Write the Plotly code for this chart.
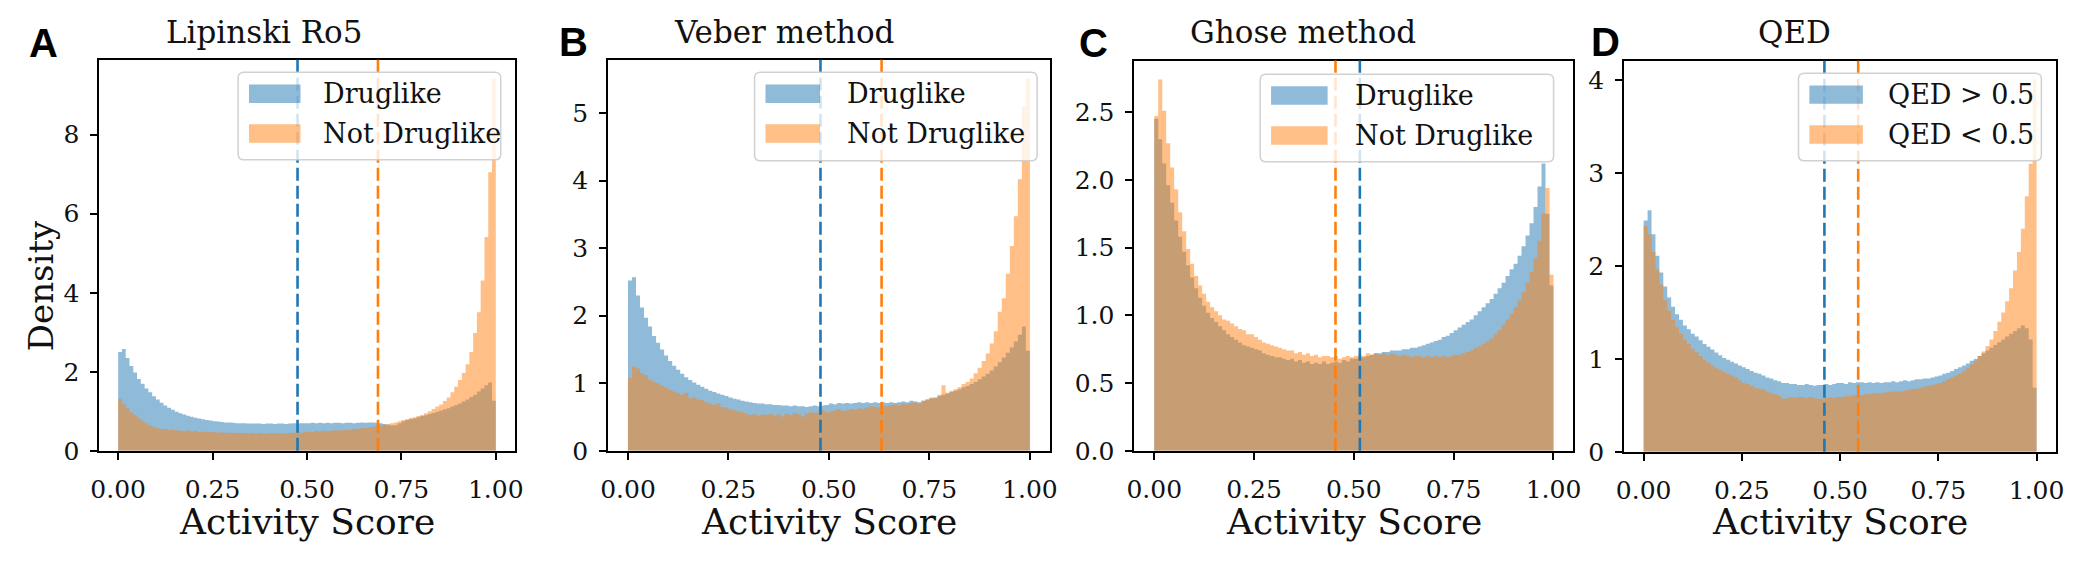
import numpy as np
import plotly.graph_objects as go

W, H = 2085, 562

# ---------------- data (density histograms, 100 bins on [0, 1]) ----------------
bin_edges = np.linspace(0.0, 1.0, 101)

titles = ["Lipinski Ro5", "Veber method", "Ghose method", "QED"]
letters = ["A", "B", "C", "D"]
legend_labels = [("Druglike", "Not Druglike"), ("Druglike", "Not Druglike"),
                 ("Druglike", "Not Druglike"), ("QED > 0.5", "QED < 0.5")]

A_druglike = [2.50, 2.58, 2.35, 2.15, 1.98, 1.82, 1.70, 1.58, 1.48, 1.38,
              1.30, 1.22, 1.15, 1.09, 1.04, 0.99, 0.95, 0.92, 0.89, 0.86,
              0.84, 0.82, 0.80, 0.78, 0.77, 0.75, 0.74, 0.73, 0.72, 0.72,
              0.71, 0.70, 0.70, 0.70, 0.69, 0.69, 0.69, 0.69, 0.68, 0.69,
              0.69, 0.68, 0.69, 0.69, 0.68, 0.69, 0.70, 0.69, 0.70, 0.70,
              0.70, 0.71, 0.70, 0.71, 0.70, 0.71, 0.70, 0.71, 0.71, 0.70,
              0.71, 0.71, 0.70, 0.71, 0.72, 0.71, 0.72, 0.72, 0.71, 0.70,
              0.68, 0.66, 0.64, 0.65, 0.70, 0.74, 0.78, 0.80, 0.82, 0.85,
              0.88, 0.90, 0.93, 0.96, 0.99, 1.02, 1.05, 1.08, 1.12, 1.16,
              1.20, 1.25, 1.30, 1.36, 1.42, 1.50, 1.58, 1.66, 1.73, 1.27]
A_not = [1.32, 1.20, 1.08, 0.98, 0.90, 0.82, 0.76, 0.70, 0.65, 0.61,
         0.57, 0.55, 0.56, 0.53, 0.54, 0.52, 0.51, 0.50, 0.52, 0.49,
         0.50, 0.48, 0.49, 0.47, 0.48, 0.47, 0.46, 0.47, 0.46, 0.46,
         0.45, 0.46, 0.45, 0.46, 0.44, 0.45, 0.44, 0.45, 0.44, 0.43,
         0.45, 0.44, 0.45, 0.43, 0.44, 0.45, 0.46, 0.47, 0.46, 0.48,
         0.49, 0.48, 0.50, 0.49, 0.51, 0.50, 0.51, 0.52, 0.51, 0.53,
         0.54, 0.53, 0.55, 0.56, 0.57, 0.58, 0.60, 0.61, 0.63, 0.64,
         0.66, 0.68, 0.70, 0.72, 0.75, 0.78, 0.80, 0.83, 0.85, 0.88,
         0.91, 0.95, 1.00, 1.06, 1.12, 1.17, 1.26, 1.35, 1.48, 1.62,
         1.79, 1.97, 2.19, 2.50, 2.98, 3.51, 4.31, 5.41, 7.05, 9.43]

B_druglike = [2.52, 2.57, 2.30, 2.12, 1.97, 1.84, 1.70, 1.60, 1.50, 1.41,
              1.33, 1.26, 1.20, 1.14, 1.09, 1.05, 1.01, 0.98, 0.95, 0.92,
              0.89, 0.87, 0.85, 0.83, 0.81, 0.79, 0.77, 0.76, 0.74, 0.73,
              0.72, 0.71, 0.70, 0.70, 0.69, 0.69, 0.68, 0.68, 0.67, 0.67,
              0.66, 0.67, 0.66, 0.66, 0.65, 0.66, 0.67, 0.66, 0.67, 0.68,
              0.70, 0.69, 0.71, 0.70, 0.71, 0.70, 0.71, 0.72, 0.71, 0.72,
              0.71, 0.72, 0.71, 0.72, 0.71, 0.72, 0.71, 0.72, 0.73, 0.72,
              0.74, 0.73, 0.72, 0.74, 0.76, 0.78, 0.79, 0.81, 0.83, 0.85,
              0.87, 0.89, 0.91, 0.94, 0.96, 0.99, 1.02, 1.06, 1.10, 1.14,
              1.19, 1.25, 1.31, 1.38, 1.45, 1.53, 1.62, 1.72, 1.84, 1.48]
B_not = [1.08, 1.25, 1.22, 1.15, 1.12, 1.05, 1.02, 1.00, 0.96, 0.93,
         0.90, 0.88, 0.86, 0.83, 0.86, 0.78, 0.79, 0.76, 0.75, 0.72,
         0.70, 0.68, 0.70, 0.65, 0.64, 0.62, 0.60, 0.59, 0.57, 0.55,
         0.53, 0.54, 0.52, 0.54, 0.53, 0.55, 0.52, 0.54, 0.51, 0.55,
         0.53, 0.56, 0.54, 0.51, 0.55, 0.57, 0.56, 0.58, 0.60, 0.57,
         0.58, 0.60, 0.62, 0.59, 0.60, 0.62, 0.61, 0.63, 0.62, 0.64,
         0.66, 0.65, 0.64, 0.67, 0.66, 0.68, 0.69, 0.67, 0.70, 0.69,
         0.71, 0.72, 0.70, 0.74, 0.76, 0.79, 0.78, 0.83, 0.97, 0.86,
         0.89, 0.91, 0.94, 0.99, 1.02, 1.07, 1.15, 1.23, 1.33, 1.44,
         1.59, 1.77, 2.06, 2.26, 2.62, 3.03, 3.47, 4.02, 5.10, 5.51]

C_druglike = [2.45, 2.30, 2.12, 1.96, 1.83, 1.70, 1.58, 1.47, 1.37, 1.28,
              1.20, 1.13, 1.07, 1.02, 0.98, 0.95, 0.92, 0.89, 0.86, 0.84,
              0.82, 0.80, 0.78, 0.77, 0.76, 0.75, 0.74, 0.72, 0.71, 0.70,
              0.69, 0.69, 0.68, 0.67, 0.68, 0.66, 0.67, 0.65, 0.66, 0.64,
              0.65, 0.64, 0.66, 0.64, 0.65, 0.66, 0.65, 0.67, 0.66, 0.68,
              0.68, 0.69, 0.69, 0.70, 0.71, 0.72, 0.72, 0.73, 0.73, 0.74,
              0.74, 0.74, 0.75, 0.75, 0.76, 0.76, 0.77, 0.78, 0.79, 0.80,
              0.81, 0.82, 0.84, 0.85, 0.87, 0.89, 0.91, 0.93, 0.95, 0.97,
              1.00, 1.03, 1.06, 1.09, 1.12, 1.16, 1.20, 1.24, 1.29, 1.34,
              1.38, 1.44, 1.51, 1.59, 1.68, 1.80, 1.95, 2.12, 1.75, 1.22]
C_not = [2.47, 2.74, 2.51, 2.27, 2.09, 1.93, 1.76, 1.62, 1.49, 1.38,
         1.29, 1.22, 1.16, 1.10, 1.06, 1.03, 1.00, 0.97, 0.96, 0.94,
         0.92, 0.90, 0.89, 0.86, 0.86, 0.84, 0.82, 0.80, 0.79, 0.78,
         0.77, 0.76, 0.75, 0.74, 0.74, 0.72, 0.73, 0.71, 0.72, 0.70,
         0.71, 0.69, 0.70, 0.70, 0.69, 0.70, 0.68, 0.69, 0.70, 0.69,
         0.70, 0.71, 0.70, 0.72, 0.71, 0.72, 0.71, 0.72, 0.71, 0.72,
         0.71, 0.70, 0.71, 0.70, 0.69, 0.70, 0.70, 0.69, 0.70, 0.69,
         0.70, 0.69, 0.70, 0.69, 0.70, 0.71, 0.71, 0.72, 0.73, 0.74,
         0.76, 0.77, 0.79, 0.81, 0.83, 0.86, 0.89, 0.93, 0.97, 1.01,
         1.06, 1.11, 1.17, 1.24, 1.32, 1.42, 1.55, 1.75, 1.94, 1.30]

D_high = [2.49, 2.60, 2.34, 2.11, 1.93, 1.78, 1.66, 1.56, 1.48, 1.42,
          1.36, 1.32, 1.27, 1.24, 1.20, 1.16, 1.13, 1.10, 1.07, 1.04,
          1.01, 0.99, 0.97, 0.95, 0.93, 0.91, 0.89, 0.87, 0.85, 0.84,
          0.82, 0.80, 0.79, 0.77, 0.76, 0.74, 0.74, 0.73, 0.73, 0.72,
          0.72, 0.73, 0.72, 0.71, 0.72, 0.72, 0.73, 0.72, 0.73, 0.74,
          0.74, 0.73, 0.75, 0.74, 0.75, 0.75, 0.74, 0.75, 0.74, 0.75,
          0.74, 0.75, 0.75, 0.76, 0.75, 0.76, 0.77, 0.76, 0.77, 0.78,
          0.78, 0.79, 0.79, 0.80, 0.81, 0.82, 0.84, 0.85, 0.87, 0.89,
          0.91, 0.93, 0.95, 0.98, 1.00, 1.03, 1.06, 1.09, 1.12, 1.15,
          1.18, 1.21, 1.24, 1.27, 1.30, 1.33, 1.36, 1.33, 1.21, 0.69]
D_low = [2.43, 2.34, 2.15, 1.96, 1.80, 1.63, 1.52, 1.42, 1.34, 1.27,
         1.21, 1.16, 1.11, 1.07, 1.03, 0.99, 0.96, 0.93, 0.90, 0.88,
         0.86, 0.84, 0.82, 0.80, 0.77, 0.74, 0.73, 0.71, 0.69, 0.68,
         0.67, 0.65, 0.63, 0.62, 0.60, 0.57, 0.58, 0.59, 0.58, 0.59,
         0.59, 0.58, 0.59, 0.58, 0.57, 0.57, 0.58, 0.59, 0.58, 0.59,
         0.59, 0.60, 0.60, 0.61, 0.61, 0.61, 0.62, 0.62, 0.63, 0.63,
         0.63, 0.64, 0.64, 0.65, 0.65, 0.65, 0.66, 0.67, 0.68, 0.68,
         0.69, 0.70, 0.71, 0.72, 0.73, 0.74, 0.76, 0.78, 0.80, 0.82,
         0.84, 0.87, 0.90, 0.94, 0.98, 1.03, 1.08, 1.14, 1.21, 1.30,
         1.40, 1.50, 1.62, 1.76, 1.95, 2.15, 2.40, 2.75, 3.10, 4.01]

series_blue = [A_druglike, B_druglike, C_druglike, D_high]
series_orange = [A_not, B_not, C_not, D_low]

# mean activity score per group (dashed lines)
means_blue = [0.475, 0.479, 0.515, 0.460]
means_orange = [0.688, 0.631, 0.454, 0.546]

y_max = [9.9, 5.79, 2.88, 4.21]
y_ticks = [[0, 2, 4, 6, 8], [0, 1, 2, 3, 4, 5], [0, 0.5, 1.0, 1.5, 2.0, 2.5], [0, 1, 2, 3, 4]]
y_ticklabels = [["0", "2", "4", "6", "8"], ["0", "1", "2", "3", "4", "5"],
                ["0.0", "0.5", "1.0", "1.5", "2.0", "2.5"], ["0", "1", "2", "3", "4"]]
x_ticks = [0.0, 0.25, 0.5, 0.75, 1.0]
x_ticklabels = ["0.00", "0.25", "0.50", "0.75", "1.00"]

# ---------------- layout geometry (pixels) ----------------
axes_px = [(83, 502, 53, 455), (596, 1042, 53, 455), (1127, 1570, 54, 455), (1621, 2057, 54, 456)]
legend_px = [(223, 488, 66, 156), (744, 1029, 66, 157), (1254, 1550, 68, 158), (1797, 2042, 67, 157)]
swatch_w = [52, 55, 57, 54]
text_off = [84, 91, 94, 88]
title_px = [(249, 25), (774, 25), (1297, 25), (1793, 25)]
letter_px = [(27, 36), (561, 35), (1086, 36), (1602, 35)]

BLUE = "#1f77b4"
ORANGE = "#ff7f0e"
BLUE_FILL = "rgba(31,119,180,0.5)"
ORANGE_FILL = "rgba(255,127,14,0.5)"
FONT = "DejaVu Serif"
TXT = "#111111"


def px(x):
    return x / W


def py(y):
    return 1 - y / H


fig = go.Figure()
layout = dict(width=W, height=H, autosize=False, margin=dict(l=0, r=0, t=0, b=0),
              paper_bgcolor="white", plot_bgcolor="white", showlegend=False)
shapes = []
annotations = []

for i in range(4):
    n = "" if i == 0 else str(i + 1)
    xa, ya = "x" + n, "y" + n
    l, r, t, b = axes_px[i]
    for vals, col in ((series_blue[i], BLUE_FILL), (series_orange[i], ORANGE_FILL)):
        fig.add_trace(go.Scatter(
            x=bin_edges, y=list(vals) + [vals[-1]], mode="lines", line=dict(width=0, shape="hv"),
            fill="tozeroy", fillcolor=col, xaxis=xa, yaxis=ya, hoverinfo="skip"))
    axis_common = dict(showline=True, linecolor="black", linewidth=1.6, mirror=True,
                       showgrid=False, zeroline=False, ticks="outside", ticklen=7, tickwidth=1.6,
                       tickcolor="black", tickfont=dict(family=FONT, size=25, color=TXT))
    layout["xaxis" + n] = dict(domain=[px(l), px(r)], range=[-0.05, 1.05], anchor=ya,
                               tickvals=x_ticks, ticktext=x_ticklabels, ticklabelstandoff=8,
                               **axis_common)
    layout["yaxis" + n] = dict(domain=[py(b), py(t)], range=[0, y_max[i]], anchor=xa,
                               tickvals=y_ticks[i], ticktext=y_ticklabels[i], ticklabelstandoff=6,
                               **axis_common)
    # mean lines
    for m, col in ((means_blue[i], BLUE), (means_orange[i], ORANGE)):
        shapes.append(dict(type="line", xref=xa, yref=ya + " domain", x0=m, x1=m, y0=0, y1=1,
                           line=dict(color=col, width=2.6, dash="13px,5px"), layer="above"))
    # legend frame (rounded)
    L, R, T, B = legend_px[i]
    rad = 6
    rx, ry = rad / W, rad / H
    x0, x1, y0, y1 = px(L), px(R), py(B), py(T)
    path = (f"M {x0+rx},{y1} L {x1-rx},{y1} Q {x1},{y1} {x1},{y1-ry} "
            f"L {x1},{y0+ry} Q {x1},{y0} {x1-rx},{y0} L {x0+rx},{y0} "
            f"Q {x0},{y0} {x0},{y0+ry} L {x0},{y1-ry} Q {x0},{y1} {x0+rx},{y1} Z")
    shapes.append(dict(type="path", xref="paper", yref="paper", path=path,
                       fillcolor="rgba(255,255,255,0.8)", line=dict(color="rgba(204,204,204,0.9)", width=1.5),
                       layer="above"))
    for k, col in enumerate((BLUE_FILL, ORANGE_FILL)):
        cy = T + 22 + 41 * k
        shapes.append(dict(type="rect", xref="paper", yref="paper",
                           x0=px(L + 11), x1=px(L + 11 + swatch_w[i]), y0=py(cy + 9.5), y1=py(cy - 9.5),
                           fillcolor=col, line=dict(width=0), layer="above"))
        annotations.append(dict(xref="paper", yref="paper", x=px(L + text_off[i]), y=py(cy),
                                xanchor="left", yanchor="middle", showarrow=False,
                                text=legend_labels[i][k], font=dict(family=FONT, size=27, color=TXT)))
    # x-axis label
    annotations.append(dict(xref="paper", yref="paper", x=px((l + r) / 2), y=py(528),
                            xanchor="center", yanchor="middle", showarrow=False, text="Activity Score",
                            font=dict(family=FONT, size=36, color=TXT)))
    # title
    annotations.append(dict(xref="paper", yref="paper", x=px(title_px[i][0]), y=py(title_px[i][1]),
                            xanchor="center", yanchor="middle", showarrow=False, text=titles[i],
                            font=dict(family=FONT, size=31, color=TXT)))
    # panel letter
    annotations.append(dict(xref="paper", yref="paper", x=px(letter_px[i][0]), y=py(letter_px[i][1]),
                            xanchor="center", yanchor="middle", showarrow=False,
                            text="<b>" + letters[i] + "</b>",
                            font=dict(family="Liberation Sans", size=40, color="black")))

annotations.append(dict(xref="paper", yref="paper", x=px(25), y=py(285), xanchor="center",
                        yanchor="middle", showarrow=False, text="Density", textangle=-90,
                        font=dict(family=FONT, size=34, color=TXT)))

layout["shapes"] = shapes
layout["annotations"] = annotations
fig.update_layout(**layout)
fig.write_html("out.html")
